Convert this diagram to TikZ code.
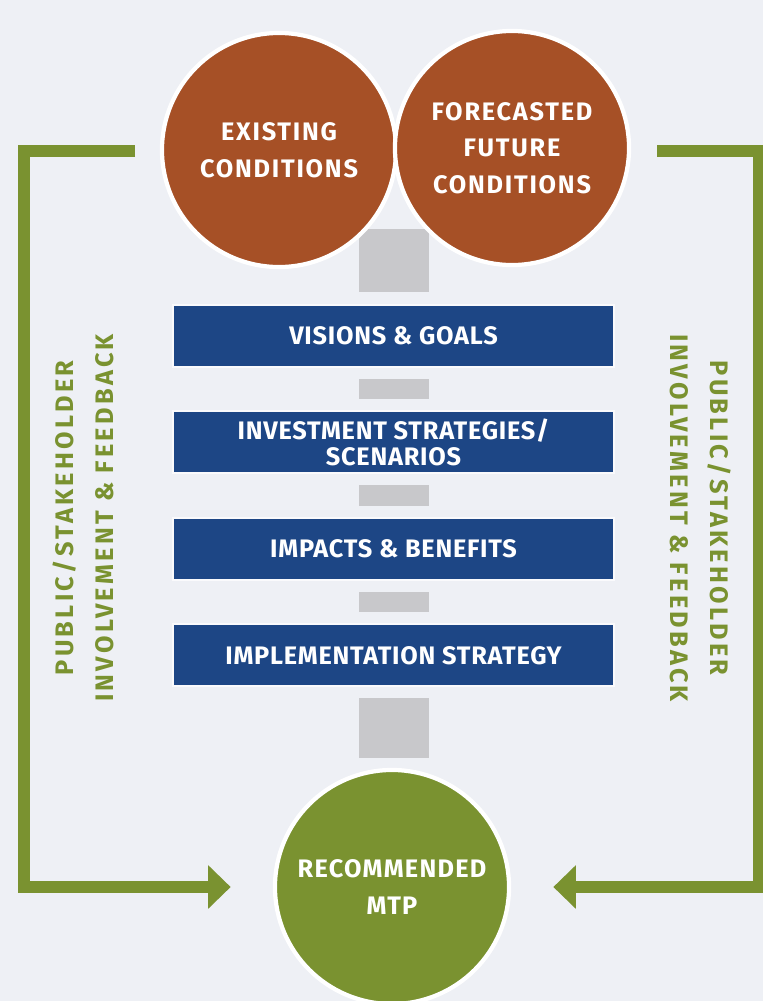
\documentclass[tikz,border=0pt]{standalone}
\usepackage{fontspec}
\setmainfont{Fira Sans}
\usepackage{xcolor}
\usepackage{tikz}
\usetikzlibrary{arrows.meta, shapes, positioning, calc}

\definecolor{pagebg}{RGB}{238,240,245}
\definecolor{rust}{RGB}{166,80,38}
\definecolor{navy}{RGB}{29,70,133}
\definecolor{olive}{RGB}{122,146,48}
\definecolor{stone}{RGB}{200,200,203}

\begin{document}
\begin{tikzpicture}[
        x=0.025cm, y=-0.025cm,
        node distance=2.66cm,
        stage/.style={circle, draw=white, line width=3pt, fill=rust, minimum size=5.85cm, inner sep=0pt, align=center, text=white, font=\bfseries\fontsize{18}{26}\selectfont\addfontfeatures{LetterSpace=7}},
        result/.style={stage, fill=olive, font=\bfseries\fontsize{18}{27}\selectfont\addfontfeatures{LetterSpace=5}},
        bar/.style={rectangle, draw=white!70!pagebg, line width=1.5pt, fill=navy, minimum width=11.03cm, minimum height=1.55cm, inner sep=0pt, align=center, text=white, font=\bfseries\fontsize{18}{18}\selectfont\addfontfeatures{LetterSpace=3}},
        link/.style={fill=stone},
        loop/.style={draw=olive, line width=8.5pt, -{Triangle[length=16pt, width=30pt]}},
        side/.style={text=olive, align=center, font=\bfseries\fontsize{18}{28.5}\selectfont\addfontfeatures{LetterSpace=13}}
    ]
        \useasboundingbox [fill=pagebg] (0,0) rectangle (763,1001);

        % steps down the middle
        \node (b1) [bar] at (393.5,336) {VISIONS \& GOALS};
        \node (b2) [bar, below of=b1] {INVESTMENT STRATEGIES/\\SCENARIOS};
        \node (b3) [bar, below of=b2] {IMPACTS \& BENEFITS};
        \node (b4) [bar, below of=b3] {IMPLEMENTATION STRATEGY};

        % grey blocks between the steps
        \fill [link] ($(b1.north)+(-35,-75)$) rectangle ($(b1.north)+(35,-12)$);
        \fill [link] ($(b1.south)+(-35,11)$) rectangle ($(b2.north)+(35,-11)$);
        \fill [link] ($(b2.south)+(-35,11)$) rectangle ($(b3.north)+(35,-11)$);
        \fill [link] ($(b3.south)+(-35,11)$) rectangle ($(b4.north)+(35,-11)$);
        \fill [link] ($(b4.south)+(-35,11)$) rectangle ($(b4.south)+(35,71)$);

        \node (now) [stage] at (279,150) {EXISTING\\CONDITIONS};
        \node (future) [stage] at (512,148) {FORECASTED\\FUTURE\\CONDITIONS};
        \node (mtp) [result] at (392,887) {RECOMMENDED\\MTP};

        % feedback loops on both sides
        \node (fbL) [side, rotate=90] at (83,518) {PUBLIC/STAKEHOLDER\\INVOLVEMENT \& FEEDBACK};
        \node (fbR) [side, rotate=-90] at (701,518) {PUBLIC/STAKEHOLDER\\INVOLVEMENT \& FEEDBACK};
        \coordinate (startL) at (135,151);
        \coordinate (startR) at (657,151);

        \draw [loop, shorten >=30pt] (startL) -- ++(-111,0) |- (mtp.west);
        \draw [loop, shorten >=30pt] (startR) -- ++(102,0) |- (mtp.east);
    \end{tikzpicture}
\end{document}
